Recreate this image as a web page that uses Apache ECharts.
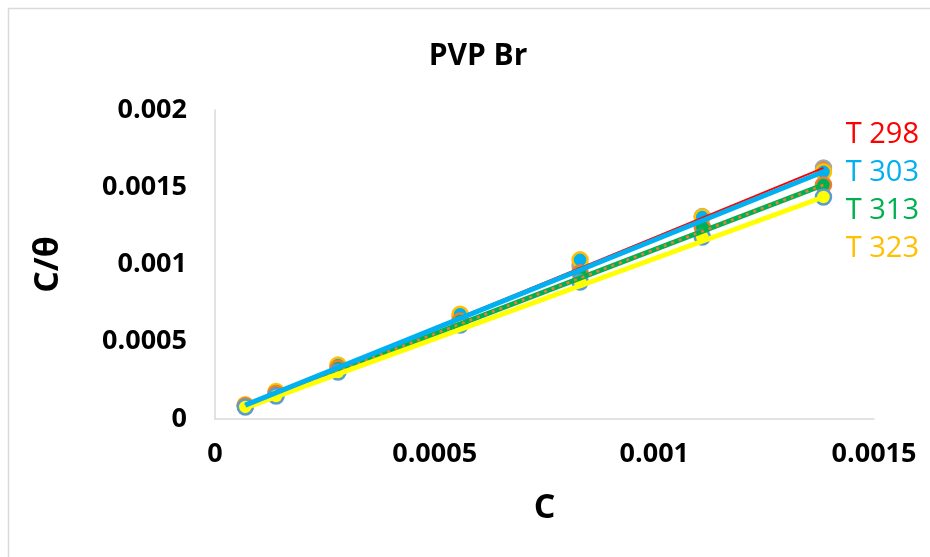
<!DOCTYPE html>
<html>
<head>
<meta charset="utf-8">
<script src="https://cdn.jsdelivr.net/npm/echarts@6/dist/echarts.min.js"></script>
<style>
  html, body { margin: 0; padding: 0; background: #fff; }
  #chart { width: 930px; height: 557px; }
</style>
</head>
<body>
<div id="chart"></div>
<script>
// concentration C
const cData = [0.000069, 0.000139, 0.00028, 0.000558, 0.000831, 0.001109, 0.001385];
// C/theta for each temperature
const t298 = [0.000088, 0.000172, 0.000345, 0.000665, 0.00099, 0.00131, 0.001625];
const t303 = [0.000092, 0.000178, 0.00035, 0.000678, 0.00103, 0.001307, 0.0016];
const t313 = [0.000085, 0.000165, 0.000328, 0.000635, 0.000945, 0.001243, 0.001515];
const t323 = [0.000078, 0.000149, 0.000304, 0.000608, 0.000887, 0.001178, 0.001437];
// linear trend lines, end points
const fitX = [0.000069, 0.001385];
const fit298 = [0.000086, 0.001625];
const fit303 = [0.00009, 0.0016];
const fit313 = [0.000082, 0.001515];
const fit323 = [0.000072, 0.001437];
const xTicks = [0, 0.0005, 0.001, 0.0015];
const yTicks = [0, 0.0005, 0.001, 0.0015, 0.002];

const pairs = (xs, ys) => xs.map((x, i) => [x, ys[i]]);
const font = '"Open Sans", sans-serif';

const chart = echarts.init(document.getElementById('chart'));

function points(name, ys, fill, border) {
  return {
    name: name,
    type: 'scatter',
    data: pairs(cData, ys),
    symbol: 'circle',
    symbolSize: 15,
    z: 1,
    itemStyle: { color: fill, borderColor: border, borderWidth: 2.5, opacity: 1 }
  };
}

function fitLine(name, ys, color, width, z, dash) {
  return {
    name: name,
    type: 'line',
    data: pairs(fitX, ys),
    symbol: 'none',
    z: z,
    lineStyle: { color: color, width: width, type: dash || 'solid' }
  };
}

chart.setOption({
  animation: false,
  title: {
    text: 'PVP Br',
    left: 473,
    top: 36,
    textAlign: 'center',
    textStyle: { fontFamily: font, fontWeight: 'bold', fontSize: 30, color: '#000' }
  },
  graphic: [{
    type: 'rect',
    shape: { x: 8.5, y: 8.5, width: 940, height: 560 },
    style: { fill: 'none', stroke: '#d9d9d9', lineWidth: 1.5 }
  }],
  legend: {
    orient: 'vertical',
    right: 6,
    top: 115,
    itemGap: 9,
    icon: 'none',
    itemWidth: 0,
    textStyle: { fontFamily: font, fontSize: 29 },
    data: [
      { name: 'T 298', textStyle: { color: '#ff0000' } },
      { name: 'T 303', textStyle: { color: '#00b0f0' } },
      { name: 'T 313', textStyle: { color: '#00b050' } },
      { name: 'T 323', textStyle: { color: '#ffc000' } }
    ]
  },
  grid: { left: 215, right: 56, top: 110, bottom: 138 },
  xAxis: {
    type: 'value',
    min: 0,
    max: 0.0015,
    interval: 0.0005,
    name: 'C',
    nameLocation: 'middle',
    nameGap: 72,
    nameTextStyle: { fontFamily: font, fontWeight: 'bold', fontSize: 34, color: '#000' },
    axisLine: { show: true, lineStyle: { color: '#d9d9d9', width: 1.5 } },
    axisTick: { show: false },
    splitLine: { show: false },
    axisLabel: {
      fontFamily: font, fontWeight: 'bold', fontSize: 27, color: '#000', margin: 22,
      formatter: v => String(xTicks.find(t => Math.abs(t - v) < 1e-9) ?? v)
    }
  },
  yAxis: {
    type: 'value',
    min: 0,
    max: 0.002,
    interval: 0.0005,
    name: 'C/θ',
    nameLocation: 'middle',
    nameGap: 150,
    nameTextStyle: { fontFamily: font, fontWeight: 'bold', fontSize: 34, color: '#000' },
    axisLine: { show: true, lineStyle: { color: '#d9d9d9', width: 1.5 } },
    axisTick: { show: false },
    splitLine: { show: false },
    axisLabel: {
      fontFamily: font, fontWeight: 'bold', fontSize: 27, color: '#000', margin: 28,
      formatter: v => String(yTicks.find(t => Math.abs(t - v) < 1e-9) ?? v)
    }
  },
  series: [
    points('T 298', t298, '#ed7d31', '#a5a5a5'),
    points('T 303', t303, '#00b0f0', '#ffc000'),
    points('T 313', t313, '#00b050', '#ed7d31'),
    points('T 323', t323, '#ffff00', '#5b9bd5'),
    fitLine('T 298', fit298, '#ff0000', 2, 2),
    fitLine('T 313', fit313, '#00b050', 5, 3),
    fitLine('T 313', fit313, '#ed7d31', 2.5, 4, [3, 5]),
    fitLine('T 323', fit323, '#ffff00', 5, 5),
    fitLine('T 303', fit303, '#00b0f0', 5, 6)
  ]
});
</script>
</body>
</html>
